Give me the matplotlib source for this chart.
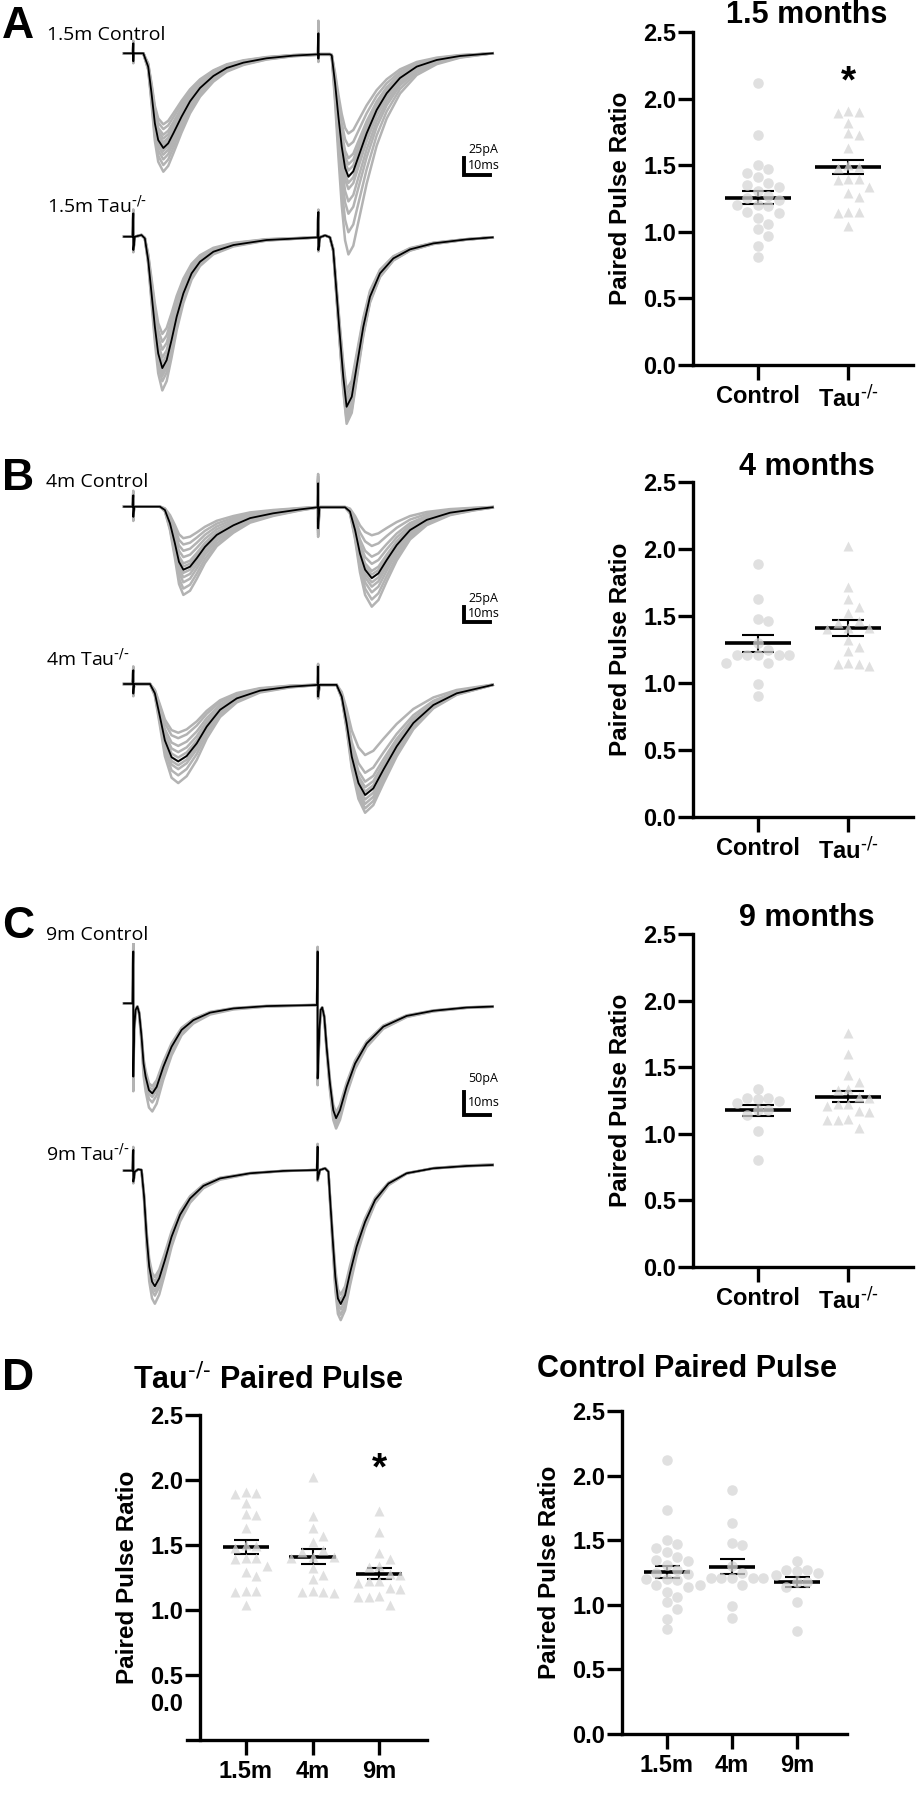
import numpy as np
import matplotlib
matplotlib.use("Agg")
import matplotlib.pyplot as plt

plt.rcParams['font.family'] = ['Liberation Sans', 'DejaVu Sans']
plt.rcParams['mathtext.default'] = 'regular'

# ---------------- averaged EPSC traces (ms, pA) ----------------
a_ctrl_t = [-3.6, -0.1, 0.0, 0.0, 0.1, 3.9, 5.8, 7.1, 8.4, 9.7, 11.7, 13.6, 15.6, 18.8, 22.1, 26.0,
            31.2, 36.4, 42.9, 51.9, 62.3, 72.0, 72.1, 72.1, 72.2, 76.6, 77.3, 78.6, 79.9, 81.2, 82.5,
            83.8, 85.7, 87.7, 90.9, 94.8, 98.7, 103.9, 110.4, 118.2, 127.3, 140.0]
a_ctrl_pA = [0, 0, 15, -12, 0, 0, -20, -60, -105, -130, -142, -135, -120, -95, -72, -52,
             -34, -22, -14, -7.5, -3.5, -1.5, 30, -8, -1.5, -1.5, -3, -45, -95, -140, -172,
             -185, -177, -155, -120, -85, -60, -37, -20, -10, -4, 0]
a_tau_t = [-3.6, -0.3, 0.0, 0.0, 0.6, 3.2, 4.5, 5.8, 7.1, 8.4, 9.7, 11.3, 13.0, 14.9, 16.9, 19.5,
           22.7, 26.0, 31.2, 39.0, 51.9, 71.8, 72.1, 72.1, 72.7, 74.7, 76.6, 77.9, 79.2, 80.5, 81.8,
           83.1, 85.1, 87.0, 89.6, 92.2, 96.1, 101.3, 107.8, 116.9, 129.9, 140.0]
a_tau_pA = [0, 0, 35, -20, 0, 2.5, -2.5, -35, -85, -135, -175, -197, -185, -155, -120, -85,
            -55, -37.5, -22.5, -12.5, -5, -1, 37, -20, -1, 2, -1, -20, -85, -150, -210,
            -255, -240, -195, -135, -90, -55, -32.5, -19, -10, -4, -1]
b_ctrl_t = [-3.6, -0.3, 0.0, 0.0, 0.3, 10.4, 12.3, 14.3, 16.2, 17.8, 19.5, 22.1, 24.7, 27.9, 32.5,
            39.0, 45.5, 54.5, 64.9, 71.8, 72.0, 72.0, 72.5, 82.5, 84.4, 86.4, 88.3, 90.3, 92.9, 95.5,
            98.7, 102.6, 107.8, 114.3, 123.4, 132.5, 140.0]
b_ctrl_pA = [0, 0, 19, -17, 0, 0, -5.5, -28, -61, -92, -105, -100, -86, -67, -47,
             -31, -19, -11, -4.5, -1, 39, -36, -1, -1, -8, -39, -78, -105, -119, -111,
             -89, -64, -39, -22, -10, -4.5, -1]
b_tau_t = [-3.6, -0.3, 0.0, 0.0, 0.3, 6.5, 8.4, 10.4, 12.3, 14.9, 17.5, 20.8, 24.7, 28.6, 33.8,
           40.3, 49.4, 61.0, 71.8, 72.0, 72.0, 72.5, 79.2, 81.2, 83.1, 85.1, 87.7, 90.3, 93.5, 97.4,
           102.6, 109.1, 116.9, 126.0, 140.0]
b_tau_pA = [0, 0, 23, -16, 0, 0, -15.5, -55, -94, -122, -129, -120, -99, -71, -43,
            -24, -11, -4.5, -1.5, 29, -21, -1.5, -1.5, -21, -65, -121, -165, -185, -174, -143,
            -104, -65, -35, -15.5, -1.5]
c_ctrl_t = [-3.6, -0.3, 0.0, 0.0, 0.3, 0.9, 1.6, 2.3, 3.2, 4.0, 4.8, 6.1, 7.4, 9.1, 11.7, 14.9,
            18.8, 23.4, 29.9, 39.0, 51.9, 71.6, 71.8, 71.8, 72.5, 73.0, 73.6, 74.4, 75.3, 76.6, 77.9,
            79.0, 80.5, 83.1, 86.4, 90.9, 97.4, 106.5, 116.9, 129.9, 140.0]
c_ctrl_pA = [0, 0, 111, -157, -57, -14, -7, -21, -71, -129, -157, -186, -193, -179, -136, -93,
             -57, -36, -20, -11, -6, -3.6, 111, -161, -57, -14, -9, -29, -93, -171, -229,
             -246, -229, -179, -129, -86, -50, -27, -16, -9, -7]
c_tau_t = [-3.6, -0.3, 0.0, 0.0, 0.6, 1.9, 3.2, 4.2, 5.2, 6.2, 7.3, 8.4, 10.1, 12.3, 14.9, 18.2,
           22.1, 27.3, 33.8, 45.5, 58.4, 71.6, 71.8, 71.8, 72.7, 74.7, 76.0, 76.6, 77.7, 78.7, 79.7,
           80.8, 82.5, 84.4, 87.0, 90.3, 94.2, 99.4, 106.5, 116.9, 129.9, 140.0]
c_tau_pA = [-1.4, -1.4, 43, -25, -3.6, 1.4, 0, -57, -143, -207, -239, -249, -232, -193, -143, -96,
            -61, -34, -18, -7, -2, 0, 50, -21, 0, 3.6, -3.6, -57, -150, -229, -275,
            -287, -268, -221, -164, -111, -64, -29, -7, 3.6, 8.6, 10.7]

# individual sweeps: relative size of first / second response
a_ctrl_g1 = [0.75, 0.8, 0.86, 0.9, 0.94, 0.97, 1.0, 1.03, 1.07, 1.12, 1.18, 1.25]
a_ctrl_g2 = [0.65, 0.75, 0.85, 0.9, 0.95, 1.0, 1.05, 1.1, 1.2, 1.3, 1.45, 1.63]
a_tau_g1 = [0.74, 0.8, 0.86, 0.92, 0.96, 1.0, 1.03, 1.06, 1.1, 1.17]
a_tau_g2 = [0.9, 0.93, 0.96, 0.98, 1.0, 1.02, 1.04, 1.06, 1.08, 1.1]
b_ctrl_g1 = [0.5, 0.6, 0.7, 0.8, 0.9, 0.95, 1.0, 1.05, 1.12, 1.2, 1.3, 1.4]
b_ctrl_g2 = [0.4, 0.55, 0.7, 0.8, 0.9, 0.95, 1.0, 1.06, 1.12, 1.2, 1.3, 1.4]
b_tau_g1 = [0.63, 0.7, 0.8, 0.88, 0.95, 1.0, 1.05, 1.1, 1.18, 1.28]
b_tau_g2 = [0.64, 0.8, 0.88, 0.93, 0.97, 1.0, 1.04, 1.08, 1.12, 1.16]
c_ctrl_g1 = [0.92, 0.96, 1.0, 1.04, 1.1, 1.2]
c_ctrl_g2 = [0.95, 0.98, 1.0, 1.03, 1.06, 1.09]
c_tau_g1 = [0.92, 0.96, 1.0, 1.04, 1.08, 1.15]
c_tau_g2 = [0.93, 0.97, 1.0, 1.04, 1.08, 1.12]

# ---------------- paired pulse ratios ----------------
ppr_ctrl_15 = [2.12, 1.73, 1.50, 1.47, 1.44, 1.41, 1.37, 1.35, 1.34, 1.31, 1.27, 1.25, 1.24, 1.20,
               1.20, 1.19, 1.15, 1.14, 1.10, 1.06, 1.02, 0.97, 0.89, 0.81]
ppr_tau_15 = [1.91, 1.90, 1.89, 1.82, 1.74, 1.73, 1.63, 1.50, 1.49, 1.48, 1.40, 1.40, 1.39, 1.34,
              1.29, 1.26, 1.15, 1.15, 1.14, 1.04]
ppr_ctrl_4 = [1.89, 1.63, 1.48, 1.46, 1.30, 1.25, 1.21, 1.21, 1.21, 1.21, 1.21, 1.15, 1.15, 0.99, 0.90]
ppr_tau_4 = [2.02, 1.72, 1.63, 1.57, 1.52, 1.46, 1.45, 1.41, 1.41, 1.40, 1.32, 1.27, 1.24, 1.15,
             1.14, 1.14, 1.13]
ppr_ctrl_9 = [1.34, 1.27, 1.27, 1.26, 1.25, 1.23, 1.18, 1.18, 1.14, 1.02, 0.80]
ppr_tau_9 = [1.76, 1.60, 1.44, 1.39, 1.34, 1.33, 1.28, 1.27, 1.22, 1.22, 1.21, 1.17, 1.16, 1.11,
             1.10, 1.10, 1.04]
mean_ctrl = [1.255, 1.295, 1.175]
sem_ctrl = [0.049, 0.060, 0.040]
mean_tau = [1.485, 1.41, 1.28]
sem_tau = [0.054, 0.057, 0.040]
ages = ['1.5m', '4m', '9m']
age_titles = ['1.5 months', '4 months', '9 months']
TAU = r'Tau$^{\text{-/-}}$'

W, H = 920, 1800
fig = plt.figure(figsize=(W / 100, H / 100), dpi=100)
GRAY = '#b3b3b3'
DOT = '#d6d6d6'


def box(l, t, r, b):
    return fig.add_axes([l / W, 1 - b / H, (r - l) / W, (b - t) / H])


def ftext(x, y, s, **kw):
    fig.text(x / W, 1 - y / H, s, **kw)


# ---------------- traces ----------------
XL = (-4.5, 141)


def trace_ax(base, ppp, lo=-340, hi=130):
    l = 133.3 + XL[0] * 2.567
    r = 133.3 + XL[1] * 2.567
    ax = box(l, base - hi * ppp, r, base - lo * ppp)
    ax.set_xlim(XL)
    ax.set_ylim(lo, hi)
    ax.axis('off')
    return ax


def draw_trace(ax, t, v, g1, g2):
    t = np.array(t)
    v = np.array(v, dtype=float)
    second = t >= 71.7
    for s1, s2 in zip(g1, g2):
        ax.plot(t, np.where(second, v * s2, v * s1), color=GRAY, lw=1.8)
    ax.plot(t, v, color='black', lw=1.3)


def scale_bar(ax, y0, pa, label):
    ax.plot([129, 129, 139], [y0, y0 - pa, y0 - pa], color='black', lw=2.8,
            solid_joinstyle='miter', clip_on=False)
    ax.text(130.5, y0 + pa * 0.55, label, fontsize=9, family='Open Sans', va='center')
    ax.text(130.5, y0 - pa * 0.45, '10ms', fontsize=9, family='Open Sans', va='center')


rows = [
    (53.3, 0.667, a_ctrl_t, a_ctrl_pA, a_ctrl_g1, a_ctrl_g2),
    (236.7, 0.667, a_tau_t, a_tau_pA, a_tau_g1, a_tau_g2),
    (506.7, 0.6, b_ctrl_t, b_ctrl_pA, b_ctrl_g1, b_ctrl_g2),
    (684.0, 0.6, b_tau_t, b_tau_pA, b_tau_g1, b_tau_g2),
    (1003.3, 0.467, c_ctrl_t, c_ctrl_pA, c_ctrl_g1, c_ctrl_g2),
    (1170.0, 0.467, c_tau_t, c_tau_pA, c_tau_g1, c_tau_g2),
]
trace_axes = []
for base, ppp, t, v, g1, g2 in rows:
    ax = trace_ax(base, ppp)
    draw_trace(ax, t, v, g1, g2)
    trace_axes.append(ax)

scale_bar(trace_axes[0], -157.5, 25, '25pA')
scale_bar(trace_axes[2], -166.7, 25, '25pA')
scale_bar(trace_axes[4], -189, 50, '50pA')

lab = dict(fontsize=14, family='Open Sans', va='center', ha='left')
ftext(47, 35, '1.5m Control', **lab)
ftext(47, 206, '1.5m ' + TAU, **lab)
ftext(46, 482, '4m Control', **lab)
ftext(46, 659, '4m ' + TAU, **lab)
ftext(46, 935, '9m Control', **lab)
ftext(46, 1154, '9m ' + TAU, **lab)

for letter, y in zip('ABCD', [26, 478, 927, 1379]):
    ftext(2, y, letter, fontsize=32, fontweight='bold', va='center', ha='left')


# ---------------- dot plots ----------------
def swarm(vals, ppx, ppy, d=10.5):
    placed = []
    offs = []
    cands = [0]
    for k in range(1, 8):
        cands += [k, -k]
    for v in vals:
        y = v * ppy
        for k in cands:
            x = k * d
            if all((x - px) ** 2 + (y - py) ** 2 >= (0.95 * d) ** 2 for px, py in placed):
                break
        placed.append((x, y))
        offs.append(x / ppx)
    return np.array(offs)


def style_axes(ax):
    for s in ['top', 'right']:
        ax.spines[s].set_visible(False)
    for s in ['left', 'bottom']:
        ax.spines[s].set_linewidth(2.4)
    ax.tick_params(width=2.4, length=10.5, labelsize=17, direction='out')
    ax.tick_params(axis='y', pad=1.5)
    ax.tick_params(axis='x', pad=4)
    for lbl in ax.get_xticklabels() + ax.get_yticklabels():
        lbl.set_fontweight('bold')


def group(ax, x0, vals, mean, sem, marker, ppx, ppy, hw=0.37, cap=11.5):
    offs = swarm(vals, ppx, ppy)
    ax.plot(x0 + offs, vals, ls='none', marker=marker, ms=7.6, mfc=DOT, mec='none',
            alpha=0.75, clip_on=False, zorder=4)
    ax.hlines(mean, x0 - hw, x0 + hw, color='black', lw=2.6, zorder=3)
    ax.errorbar([x0], [mean], yerr=[sem], fmt='none', ecolor='black', elinewidth=1.5,
                capsize=cap, capthick=1.5, zorder=3)


def ppr_panel(top, bottom, ctrl, tau, m_c, s_c, m_t, s_t, title, ty, star=None):
    ax = box(693, top, 913, bottom)
    ax.set_xlim(-0.722, 1.722)
    ax.set_ylim(0, 2.5)
    ppy = (bottom - top) / 2.5
    group(ax, 0, ctrl, m_c, s_c, 'o', 90, ppy)
    group(ax, 1, tau, m_t, s_t, '^', 90, ppy)
    ax.set_xticks([0, 1])
    ax.set_xticklabels(['Control', TAU])
    ax.set_yticks([0, 0.5, 1.0, 1.5, 2.0, 2.5])
    ax.set_yticklabels(['0.0', '0.5', '1.0', '1.5', '2.0', '2.5'])
    ax.set_ylabel('Paired Pulse Ratio', fontsize=17.5, fontweight='bold', labelpad=8)
    style_axes(ax)
    ftext(807, ty, title, fontsize=22, fontweight='bold', ha='center', va='center')
    if star is not None:
        ax.text(1, star, '*', fontsize=28, fontweight='bold', ha='center', va='center')
    return ax


ppr_panel(32, 365, ppr_ctrl_15, ppr_tau_15, mean_ctrl[0], sem_ctrl[0], mean_tau[0], sem_tau[0],
          age_titles[0], 15, star=2.12)
ppr_panel(482, 817, ppr_ctrl_4, ppr_tau_4, mean_ctrl[1], sem_ctrl[1], mean_tau[1], sem_tau[1],
          age_titles[1], 467)
ppr_panel(934, 1267, ppr_ctrl_9, ppr_tau_9, mean_ctrl[2], sem_ctrl[2], mean_tau[2], sem_tau[2],
          age_titles[2], 918)

# D left: Tau-/- across ages
ax = box(187, 1415, 427, 1740)
x_left = -0.69
ax.set_xlim(x_left - 13 / 66.5, 2.72)
ax.set_ylim(0, 2.5)
ax.spines['left'].set_position(('data', x_left))
for i, vals in enumerate([ppr_tau_15, ppr_tau_4, ppr_tau_9]):
    group(ax, i, vals, mean_tau[i], sem_tau[i], '^', 66.5, 130, hw=0.35, cap=9)
ax.set_xticks([0, 1, 2])
ax.set_xticklabels(ages)
ax.set_yticks([0.5, 1.0, 1.5, 2.0, 2.5])
ax.set_yticklabels(['0.5', '1.0', '1.5', '2.0', '2.5'])
ax.annotate('0.0', xy=(x_left, 0.27), xytext=(-12, 0), textcoords='offset points',
            ha='right', va='center', fontsize=17, fontweight='bold', annotation_clip=False)
ax.set_ylabel('Paired Pulse Ratio', fontsize=17.5, fontweight='bold', labelpad=8)
style_axes(ax)
ax.text(2, 2.08, '*', fontsize=28, fontweight='bold', ha='center', va='center')
ftext(268, 1380, TAU + ' Paired Pulse', fontsize=22, fontweight='bold', ha='center', va='center')

# D right: controls across ages
ax = box(622, 1411, 847, 1734)
ax.set_xlim(-0.69, 2.77)
ax.set_ylim(0, 2.5)
for i, vals in enumerate([ppr_ctrl_15, ppr_ctrl_4, ppr_ctrl_9]):
    group(ax, i, vals, mean_ctrl[i], sem_ctrl[i], 'o', 65, 129, hw=0.35, cap=9)
ax.set_xticks([0, 1, 2])
ax.set_xticklabels(ages)
ax.set_yticks([0, 0.5, 1.0, 1.5, 2.0, 2.5])
ax.set_yticklabels(['0.0', '0.5', '1.0', '1.5', '2.0', '2.5'])
ax.set_ylabel('Paired Pulse Ratio', fontsize=17.5, fontweight='bold', labelpad=8)
style_axes(ax)
ftext(687, 1369, 'Control Paired Pulse', fontsize=22, fontweight='bold', ha='center', va='center')

fig.savefig('out.png', dpi=100)
